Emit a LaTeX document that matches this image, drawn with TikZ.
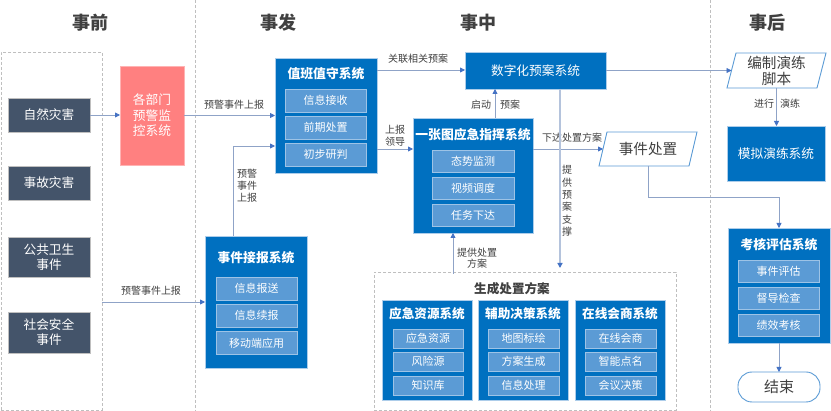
\documentclass[tikz,border=0pt]{standalone}
\usepackage{fontspec}
\setmainfont{Noto Sans CJK SC}
\usetikzlibrary{arrows.meta}
\definecolor{mainblue}{HTML}{0070C0}
\definecolor{subblue}{HTML}{5B9BD5}
\definecolor{slate}{HTML}{44546A}
\definecolor{pinkfill}{HTML}{FF8080}
\definecolor{txtgray}{HTML}{404040}
\definecolor{linecol}{HTML}{8FA3C7}
\definecolor{lightline}{HTML}{B4C3DC}
\definecolor{tipcol}{HTML}{4472C4}
\definecolor{dashgray}{HTML}{BFBFBF}
\definecolor{edgeblue}{HTML}{5B9BD5}
\begin{document}
\begin{tikzpicture}[x=1pt,y=-1pt,
  every node/.style={inner sep=0pt,outer sep=0pt},
  zone/.style={draw=dashgray,dash pattern=on 3pt off 2pt,line width=0.7pt},
  header/.style={text=txtgray,font=\fontsize{18}{20}\selectfont\bfseries},
  slatebox/.style={fill=slate,draw=gray!50,line width=0.4pt,text=white,align=center,
    minimum width=82pt,font=\fontsize{12.7}{15}\selectfont},
  pinkbox/.style={fill=pinkfill,draw=pinkfill!60!white,line width=0.4pt,text=white,align=center,
    minimum width=64pt,minimum height=99pt,font=\fontsize{12.7}{15.5}\selectfont},
  mainbox/.style 2 args={fill=mainblue,draw=edgeblue!50!white,line width=0.5pt,
    minimum width=#1,minimum height=#2,text=white,font=\fontsize{12.7}{15}\selectfont},
  boxtitle/.style={text=white,font=\fontsize{12.8}{15}\selectfont\bfseries},
  subtitle/.style={text=white,font=\fontsize{12.6}{15}\selectfont\bfseries},
  subbox/.style 2 args={fill=subblue,draw=subblue!60!white,line width=0.3pt,
    minimum width=#1,minimum height=#2,text=white,font=\fontsize{11}{13}\selectfont},
  lbl/.style={text=txtgray,align=center,font=\fontsize{10}{12}\selectfont},
  pgtext/.style={text=txtgray,align=center,font=\fontsize{14.6}{16}\selectfont},
  pgram/.style={draw=edgeblue,line width=0.9pt},
  conn/.style={draw=linecol,line width=0.8pt,-{Triangle[length=5pt,width=5pt,color=tipcol]}},
  connlight/.style={draw=lightline,line width=1.6pt,-{Triangle[length=5pt,width=5pt,color=tipcol]}},
]
\useasboundingbox (0,0) rectangle (831,411);
\fill[white] (0,0) rectangle (831,411);

% helper coordinates
\coordinate (y70) at (0,70);
\coordinate (y146) at (0,146);
\coordinate (y149) at (0,149);
\coordinate (y197) at (0,197);
\coordinate (x233) at (233,0);
\coordinate (x453) at (453,0);
\coordinate (x495) at (495,0);
\coordinate (x560) at (560,0);

% column dividers and zones
\coordinate (div1t) at (195,0);
\coordinate (div1b) at (195,411);
\coordinate (div2t) at (710,0);
\coordinate (div2b) at (710,411);
\draw[zone] (div1t) -- (div1b);
\draw[zone] (div2t) -- (div2b);
\node[zone,minimum width=101pt,minimum height=358pt] (zoneL) at (51.5,231) {};
\node[zone,minimum width=302pt,minimum height=138pt] (gen) at (525,341) {};

% headers
\node[header] (h1) at (90,23) {事前};
\node[header] (h2) at (278,23) {事发};
\node[header] (h3) at (478,23) {事中};
\node[header] (h4) at (767,23) {事后};

% left column
\node[slatebox,minimum height=34pt] (nat) at (49,115) {自然灾害};
\node[slatebox,minimum height=34pt] (acc) at (49,183) {事故灾害};
\node[slatebox,minimum height=40pt] (pub) at (49,257) {公共卫生\\事件};
\node[slatebox,minimum height=41pt] (soc) at (49,332.5) {社会安全\\事件};

\node[pinkbox] (pink) at (152,115.5) {各部门\\预警监\\控系统};

% duty system
\node[mainbox={102pt}{115pt}] (duty) at (326,115.5) {};
\node[boxtitle] (dutyT) at (326,74) {值班值守系统};
\node[subbox={81pt}{23pt}] (duty1) at (325.5,100.5) {信息接收};
\node[subbox={81pt}{23pt}] (duty2) at (325.5,127.5) {前期处置};
\node[subbox={81pt}{23pt}] (duty3) at (325.5,154.5) {初步研判};

% report system
\node[mainbox={102pt}{132pt}] (report) at (256,302) {};
\node[boxtitle] (reportT) at (256,258) {事件接报系统};
\node[subbox={81pt}{23pt}] (rep1) at (256.5,288.5) {信息报送};
\node[subbox={81pt}{23pt}] (rep2) at (256.5,315.5) {信息续报};
\node[subbox={81pt}{23pt}] (rep3) at (256.5,343) {移动端应用};

% digital plan system
\node[mainbox={141pt}{37pt}] (digital) at (535.5,70.5) {数字化预案系统};

% map command system
\node[mainbox={120pt}{115pt}] (map) at (473,175.5) {};
\node[boxtitle] (mapT) at (473,135) {一张图应急指挥系统};
\node[subbox={82pt}{22pt}] (map1) at (473,161) {态势监测};
\node[subbox={82pt}{22pt}] (map2) at (473,188) {视频调度};
\node[subbox={82pt}{22pt}] (map3) at (473,215) {任务下达};

% generated plan subsystems
\node[text=txtgray,font=\fontsize{12.6}{15}\selectfont\bfseries] (genT) at (512,289) {生成处置方案};
\node[mainbox={90pt}{100pt}] (res) at (427,350) {};
\node[subtitle] (resT) at (427,314) {应急资源系统};
\node[subbox={70pt}{19pt}] (res1) at (428,338.5) {应急资源};
\node[subbox={70pt}{19pt}] (res2) at (428,361.5) {风险源};
\node[subbox={70pt}{19pt}] (res3) at (428,385.5) {知识库};
\node[mainbox={90pt}{100pt}] (aux) at (523,350) {};
\node[subtitle] (auxT) at (523,314) {辅助决策系统};
\node[subbox={71pt}{19pt}] (aux1) at (523.5,338.5) {地图标绘};
\node[subbox={71pt}{19pt}] (aux2) at (523.5,361.5) {方案生成};
\node[subbox={71pt}{19pt}] (aux3) at (523.5,385.5) {信息处理};
\node[mainbox={90pt}{100pt}] (onl) at (620,350) {};
\node[subtitle] (onlT) at (620,314) {在线会商系统};
\node[subbox={71pt}{19pt}] (onl1) at (620.5,338.5) {在线会商};
\node[subbox={71pt}{19pt}] (onl2) at (620.5,361.5) {智能点名};
\node[subbox={71pt}{19pt}] (onl3) at (620.5,385.5) {会议决策};

% event disposal (parallelogram)
\node[pgtext,minimum width=82pt,minimum height=34pt] (evt) at (648,149) {事件处置};
\draw[pgram] (evt.north west) -- ([xshift=8pt]evt.north east) -- (evt.south east) -- ([xshift=-8pt]evt.south west) -- cycle;

% script (parallelogram)
\node[pgtext,minimum width=81pt,minimum height=35pt] (script) at (776.5,70.5) {编制演练\\脚本};
\draw[pgram] (script.north west) -- ([xshift=9pt]script.north east) -- (script.south east) -- ([xshift=-9pt]script.south west) -- cycle;

% simulation
\node[mainbox={98pt}{55pt}] (sim) at (776,153.5) {模拟演练系统};

% evaluation
\node[mainbox={102pt}{115pt}] (eval) at (779,285.5) {};
\node[boxtitle] (evalT) at (779,245) {考核评估系统};
\node[subbox={81pt}{22pt}] (eval1) at (778.5,271) {事件评估};
\node[subbox={81pt}{22pt}] (eval2) at (778.5,298) {督导检查};
\node[subbox={81pt}{22pt}] (eval3) at (778.5,325) {绩效考核};

% end
\node[draw=edgeblue,line width=0.9pt,rounded corners=14pt,minimum width=82pt,minimum height=30pt,
  text=txtgray,font=\fontsize{15}{17}\selectfont] (endn) at (779,387) {结束};

% connectors
\draw[conn] (nat.east) -- (pink.west |- nat.east);
\draw[conn] (pink.east) -- (duty.west |- pink.east);
\node[lbl] (l1) at (234,105) {预警事件上报};
\draw[conn] (report.west -| zoneL.east) -- (report.west);
\node[lbl] (l2) at (151,291) {预警事件上报};
\draw[conn] (report.north -| x233) |- (duty.west |- y146);
\node[lbl,align=left,font=\fontsize{10}{12}\selectfont] (l3) at (247,186) {预警\\事件\\上报};
\draw[conn] (duty.east |- y70) -- (digital.west |- y70);
\node[lbl] (l4) at (418,59) {关联相关预案};
\draw[conn] (digital.east) -- ([xshift=-4.5pt]script.west);
\draw[conn] (script.south) -- (script.south |- sim.north);
\node[lbl] (l5) at (764,104) {进行};
\node[lbl] (l6) at (790,104) {演练};
\draw[conn] (map.north -| x495) -- (digital.south -| x495);
\node[lbl] (l7) at (481,105) {启动};
\node[lbl] (l8) at (510,105) {预案};
\draw[conn] (duty.east |- y149) -- (map.west |- y149);
\node[lbl] (l9) at (395,136) {上报\\领导};
\draw[conn] (map.east |- y149) -- ([xshift=-4pt]evt.west);
\node[lbl] (l10) at (572,138) {下达处置方案};
\draw[conn] (evt.south) |- (eval.north |- y197) -- (eval.north);
\draw[connlight,shorten >=4pt] (digital.south -| x560) -- (gen.north -| x560);
\node[lbl,font=\fontsize{10}{12.4}\selectfont] (l11) at (567,201) {提\\供\\预\\案\\支\\撑};
\draw[conn] ([yshift=-2pt]gen.north -| x453) -- (map.south -| x453);
\node[lbl,font=\fontsize{10}{11}\selectfont] (l12) at (477,258) {提供处置\\方案};
\draw[conn] (eval.south) -- (endn.north);
\end{tikzpicture}
\end{document}
